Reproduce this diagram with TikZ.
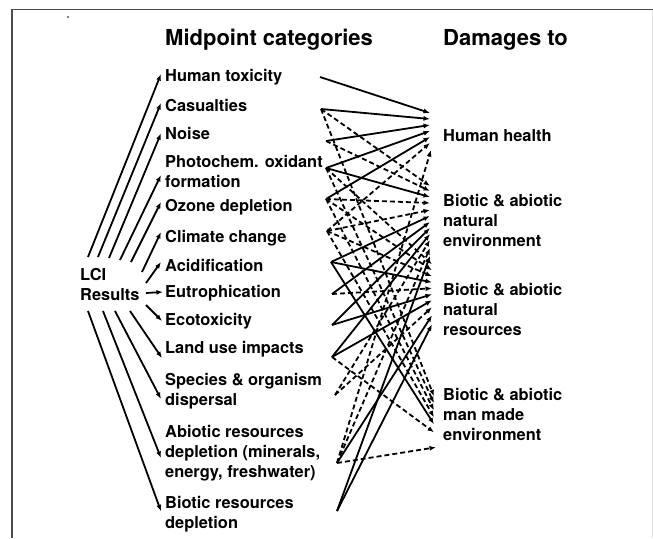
\documentclass[tikz,border=0pt]{standalone}
\usepackage{fontspec}
\setmainfont{TeX Gyre Heros}
\usetikzlibrary{arrows.meta,calc}
\newcommand\mlines[1]{\begin{tabular}[t]{@{}l@{}}#1\end{tabular}}
\newcommand\lnk[4]{\draw[#1] (#2) -- ($(#3.base west)+(#4)$);}
\begin{document}
\begin{tikzpicture}[x=1pt,y=-1pt,
  lab/.style={anchor=base west,inner sep=0pt,font=\fontsize{16.4}{20}\bfseries\selectfont},
  ttl/.style={anchor=base west,inner sep=0pt,font=\fontsize{22}{26}\bfseries\selectfont},
  con/.style={line width=1.8pt,-{Latex[length=6.5pt,width=5pt]}},
  dsh/.style={con,dash pattern=on 5pt off 3pt},
  frm/.style={line width=1.6pt,draw=black!70}]
\useasboundingbox (0,0) rectangle (653,538);
% frame
\draw[frm] (12,538) -- (12,9.5) -- (653,9.5);
\draw[line width=1pt,draw=black!12] (652,9.5) -- (652,538);
\fill (68,17) circle (0.8);
% titles
\node[ttl] (tmid) at (165,45) {Midpoint categories};
\node[ttl] (tdam) at (443,45) {Damages to};
% LCI
\node[lab] (lci) at (80,280) {\mlines{LCI\\Results}};
% midpoints
\node[lab] (ht) at (165,81) {Human toxicity};
\node[lab] (cas) at (165,111) {Casualties};
\node[lab] (noi) at (165,139.3) {Noise};
\node[lab] (pho) at (165,167) {\mlines{Photochem. oxidant\\formation}};
\node[lab] (ozo) at (165,211) {Ozone depletion};
\node[lab] (cli) at (165,242) {Climate change};
\node[lab] (aci) at (165,271) {Acidification};
\node[lab] (eut) at (165,297) {Eutrophication};
\node[lab] (eco) at (165,325) {Ecotoxicity};
\node[lab] (lan) at (165,353.6) {Land use impacts};
\node[lab] (spe) at (165,385.5) {\mlines{Species \& organism\\dispersal}};
\node[lab] (abi) at (165,437.6) {\mlines{Abiotic resources\\depletion (minerals,\\energy, freshwater)}};
\node[lab] (bio) at (165,508.3) {\mlines{Biotic resources\\depletion}};
% damages
\node[lab] (hh) at (443,141) {Human health};
\node[lab] (ne) at (443,206) {\mlines{Biotic \& abiotic\\natural\\environment}};
\node[lab] (nr) at (443,295.3) {\mlines{Biotic \& abiotic\\natural\\resources}};
\node[lab] (mm) at (443,400.3) {\mlines{Biotic \& abiotic\\man made\\environment}};
% left arrow starts
\coordinate (a1) at (88,257);
\coordinate (a2) at (98,257);
\coordinate (a3) at (109,258);
\coordinate (a4) at (120,260);
\coordinate (a5) at (131,262);
\coordinate (a6) at (142,272);
\coordinate (a7) at (146,283);
\coordinate (a8) at (146,293);
\coordinate (a9) at (146,305);
\coordinate (a10) at (130,311);
\coordinate (a11) at (115,311);
\coordinate (a12) at (103,311);
\coordinate (a13) at (88,311);
\draw[con] (a1) -- ($(ht.base west)+(-4,-7)$);
\draw[con] (a2) -- ($(cas.base west)+(-4,-8)$);
\draw[con] (a3) -- ($(noi.base west)+(-4,-6)$);
\draw[con] (a4) -- ($(pho.base west)+(-4,8)$);
\draw[con] (a5) -- ($(ozo.base west)+(-4,-9)$);
\draw[con] (a6) -- ($(cli.base west)+(-4,-10)$);
\draw[con] (a7) -- ($(aci.base west)+(-4,-9)$);
\draw[con] (a8) -- ($(eut.base west)+(-2,-5)$);
\draw[con] (a9) -- ($(eco.base west)+(-3,-4)$);
\draw[con] (a10) -- ($(lan.base west)+(-3,4.5)$);
\draw[con] (a11) -- ($(spe.base west)+(-4,13.5)$);
\draw[con] (a12) -- ($(abi.base west)+(-4,20.4)$);
\draw[con] (a13) -- ($(bio.base west)+(-4,3)$);
% middle sources
\coordinate (o1) at (320,77);
\coordinate (o2) at (321,109);
\coordinate (o3) at (326,141);
\coordinate (o4) at (326,168);
\coordinate (o5) at (326,199);
\coordinate (o6) at (327,231);
\coordinate (o7) at (331,262);
\coordinate (o8) at (332,294);
\coordinate (o9) at (332,325);
\coordinate (o10) at (332,357);
\coordinate (o11) at (335,395);
\coordinate (o12) at (337,463);
\coordinate (o13) at (337,511);
% to human health
\lnk{con}{o1}{hh}{-13,-28}
\lnk{con}{o2}{hh}{-13,-22}
\lnk{con}{o3}{hh}{-13,-16}
\lnk{con}{o4}{hh}{-13,-10}
\lnk{con}{o5}{hh}{-13,-4}
\lnk{dsh}{o6}{hh}{-13,2}
\lnk{dsh}{o12}{hh}{-12,9}
% to natural environment
\lnk{dsh}{o2}{ne}{-13,-20}
\lnk{dsh}{o3}{ne}{-13,-15}
\lnk{con}{o4}{ne}{-13,-9}
\lnk{dsh}{o5}{ne}{-13,-3}
\lnk{dsh}{o6}{ne}{-13,4}
\lnk{con}{o7}{ne}{-13,10}
\lnk{con}{o8}{ne}{-13,16}
\lnk{con}{o9}{ne}{-13,22}
\lnk{con}{o10}{ne}{-13,28}
\lnk{dsh}{o11}{ne}{-13,34}
\lnk{dsh}{o12}{ne}{-13,42}
\lnk{con}{o13}{ne}{-13,50}
% to natural resources
\lnk{dsh}{o4}{nr}{-11,-31}
\lnk{dsh}{o5}{nr}{-11,-25}
\lnk{dsh}{o6}{nr}{-11,-19}
\lnk{con}{o7}{nr}{-11,-13}
\lnk{dsh}{o8}{nr}{-11,-7}
\lnk{con}{o9}{nr}{-11,-1}
\lnk{con}{o10}{nr}{-11,5}
\lnk{dsh}{o11}{nr}{-11,12}
\lnk{con}{o12}{nr}{-11,20}
\lnk{con}{o13}{nr}{-11,29}
% to man made environment
\lnk{dsh}{o2}{mm}{-9,-4}
\lnk{dsh}{o4}{mm}{-9,3}
\lnk{dsh}{o5}{mm}{-9,10}
\lnk{dsh}{o6}{mm}{-9,17}
\lnk{con}{o7}{mm}{-9,24}
\lnk{dsh}{o10}{mm}{-9,32}
\lnk{dsh}{o12}{mm}{-7,47}
\end{tikzpicture}
\end{document}
